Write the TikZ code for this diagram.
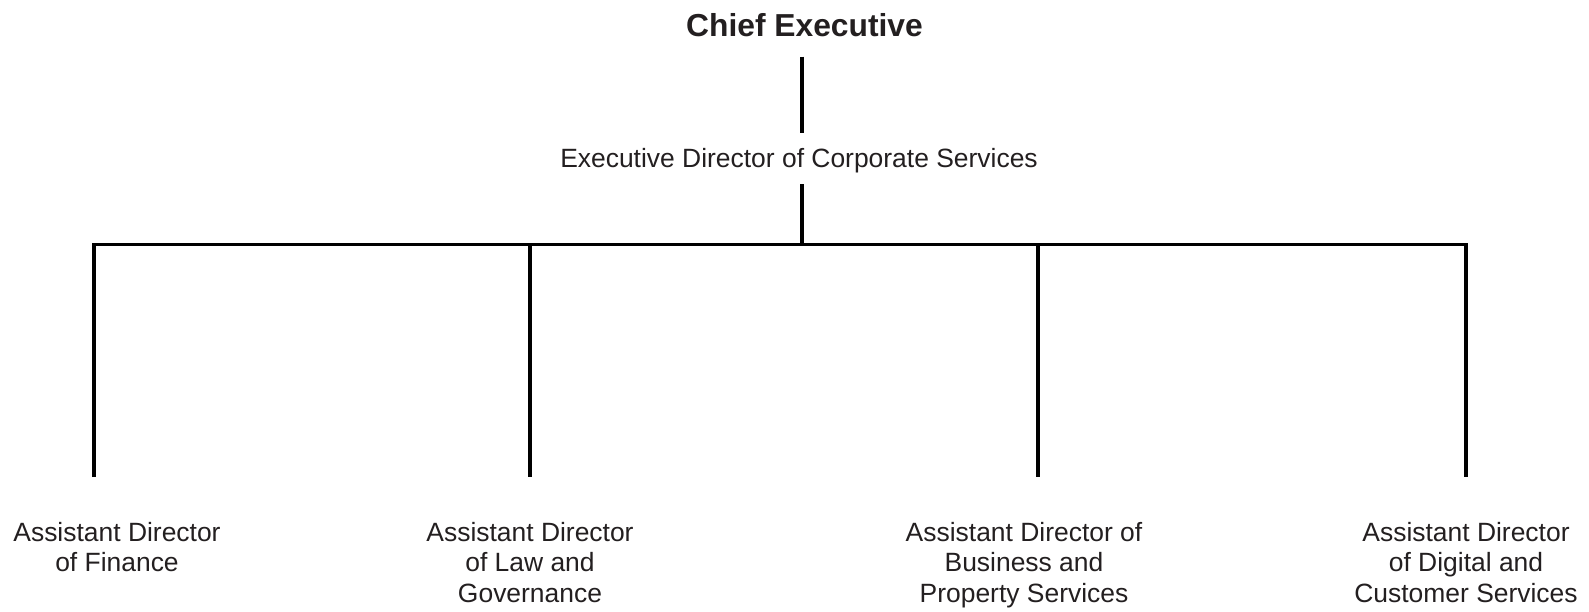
\documentclass[tikz,border=0pt]{standalone}
\usepackage{fontspec}
\setmainfont{Liberation Sans}
\definecolor{ink}{HTML}{231F20}
\tikzset{
    link/.style={line width=2.2pt, black},
    post/.style={inner sep=0pt, text=ink, font=\fontsize{18.8}{21.7}\selectfont},
    unit/.style={post, align=center, anchor=north, outer ysep=32pt}
}
\begin{document}
\begin{tikzpicture}[x=0.025cm, y=-0.025cm]
            \useasboundingbox (0,0) rectangle (1589,611);

            % Top posts
            \node[post, anchor=base, font=\fontsize{22.6}{26}\selectfont\bfseries] (ceo) at (804.5,37) {Chief Executive};
            \node[post, anchor=base] (eds) at (799,167) {Executive Director of Corporate Services};

            % Junctions on the bus line
            \coordinate (jn) at (802,244.5);
            \coordinate (jfin) at (94,244.5);
            \coordinate (jlaw) at (530,244.5);
            \coordinate (jbps) at (1038,244.5);
            \coordinate (jdcs) at (1466,244.5);

            % Assistant Directors
            \node[unit] (adfin) at (117,477) {Assistant Director\\of Finance};
            \node[unit] (adlaw) at (530,477) {Assistant Director\\of Law and\\Governance};
            \node[unit] (adbps) at (1024,477) {Assistant Director of\\Business and\\Property Services};
            \node[unit] (addcs) at (1466,477) {Assistant Director\\of Digital and\\Customer Services};

            % Chief Executive - Executive Director
            \draw[link, shorten <=13.5pt, shorten >=10.5pt] (ceo.south -| jn) -- (eds.north -| jn);
            \draw[link, shorten <=8.2pt] (eds.south -| jn) -- (jn);

            % Bus - outer posts
            \draw[link] (jfin |- adfin.north) -- (jfin) -- (jdcs) -- (jdcs |- addcs.north);

            % Bus - inner posts
            \draw[link] (jlaw) -- (jlaw |- adlaw.north);
            \draw[link] (jbps) -- (jbps |- adbps.north);

        \end{tikzpicture}
\end{document}
